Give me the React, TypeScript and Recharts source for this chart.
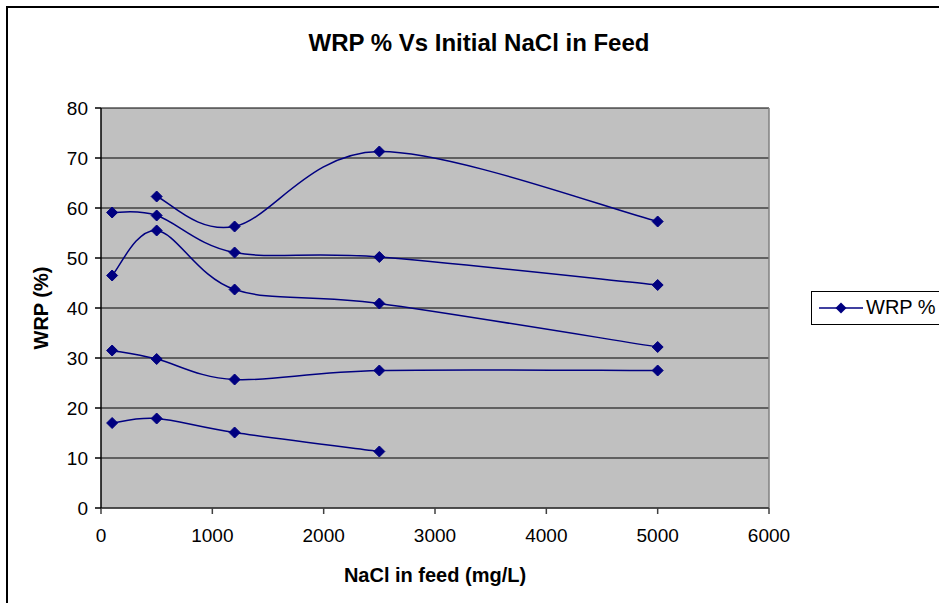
import React from "react";
import {
  LineChart,
  Line,
  XAxis,
  YAxis,
  CartesianGrid,
  ReferenceLine,
} from "recharts";

// Feed NaCl concentrations (mg/L)
const feedNaCl = [100, 500, 1200, 2500, 5000];

// WRP % runs; each run is plotted as its own segment of the one series
const runA = [59.1, 58.5, 51.1, 50.2, 44.6];
const runB = [46.5, 55.5, 43.7, 40.9, 32.2];
const runC = [31.5, 29.8, 25.7, 27.5, 27.5];
const runD = [17.0, 17.9, 15.1, 11.3];
const runE = [62.3, 56.3, 71.3, 57.3]; // starts at 500 mg/L
const runEStart = 1;

const xTicks = [0, 1000, 2000, 3000, 4000, 5000, 6000];
const yTicks = [0, 10, 20, 30, 40, 50, 60, 70, 80];

type Pt = { x: number; wrp: number | null };

const pushRun = (out: Pt[], values: number[], start = 0) => {
  values.forEach((v, i) => out.push({ x: feedNaCl[start + i], wrp: v }));
  // blank cell -> break in the line
  out.push({ x: feedNaCl[start + values.length - 1], wrp: null });
};

const data: Pt[] = [];
pushRun(data, runA);
pushRun(data, runB);
pushRun(data, runC);
pushRun(data, runD);
pushRun(data, runE, runEStart);

const NAVY = "#000080";
const FONT = "'Liberation Sans', Arial, sans-serif";

// Spreadsheet-style smoothed line (Catmull-Rom through each point)
const smoothCurve: any = (context: any) => {
  let pts: [number, number][] = [];
  return {
    areaStart() {},
    areaEnd() {},
    lineStart() {
      pts = [];
    },
    point(x: number, y: number) {
      pts.push([+x, +y]);
    },
    lineEnd() {
      if (!pts.length) return;
      context.moveTo(pts[0][0], pts[0][1]);
      for (let i = 0; i < pts.length - 1; i++) {
        const p0 = pts[Math.max(i - 1, 0)];
        const p1 = pts[i];
        const p2 = pts[i + 1];
        const p3 = pts[Math.min(i + 2, pts.length - 1)];
        context.bezierCurveTo(
          p1[0] + (p2[0] - p0[0]) / 6,
          p1[1] + (p2[1] - p0[1]) / 6,
          p2[0] - (p3[0] - p1[0]) / 6,
          p2[1] - (p3[1] - p1[1]) / 6,
          p2[0],
          p2[1]
        );
      }
    },
  };
};

const Diamond = (props: any) => {
  const { cx, cy, payload } = props;
  if (payload?.wrp == null || cx == null || cy == null) return <g />;
  const r = 5.5;
  return (
    <polygon
      points={`${cx},${cy - r} ${cx + r},${cy} ${cx},${cy + r} ${cx - r},${cy}`}
      fill={NAVY}
      stroke={NAVY}
      strokeWidth={1}
    />
  );
};

const LegendBox = () => (
  <div
    style={{
      position: "absolute",
      left: 811,
      top: 291,
      width: 160,
      height: 32,
      border: "1px solid #000",
      background: "#fff",
      fontFamily: FONT,
      fontSize: 20,
    }}
  >
    <svg width={50} height={32} style={{ position: "absolute", left: 5, top: 0 }}>
      <line x1={2} y1={16} x2={46} y2={16} stroke={NAVY} strokeWidth={1.5} />
      <polygon points="24,10.5 29.5,16 24,21.5 18.5,16" fill={NAVY} />
    </svg>
    <span style={{ position: "absolute", left: 54, top: 4, color: "#000" }}>
      WRP %
    </span>
  </div>
);

export default function App() {
  return (
    <div
      style={{
        position: "absolute",
        left: 0,
        top: 0,
        width: 939,
        height: 603,
        overflow: "hidden",
        background: "#fff",
        fontFamily: FONT,
      }}
    >
      <div
        style={{
          position: "absolute",
          left: 6,
          top: 6,
          width: 1000,
          height: 1000,
          border: "2px solid #000",
        }}
      />
      <div
        style={{
          position: "absolute",
          left: 0,
          width: 958,
          top: 29,
          textAlign: "center",
          fontWeight: "bold",
          fontSize: 24,
          color: "#000",
        }}
      >
        WRP % Vs Initial NaCl in Feed
      </div>
      <LineChart
        width={939}
        height={603}
        data={data}
        margin={{ top: 108, right: 170, bottom: 65, left: 41 }}
        style={{ position: "absolute", left: 0, top: 0 }}
      >
        <CartesianGrid
          vertical={false}
          stroke="#000"
          fill="#C0C0C0"
          fillOpacity={1}
        />
        <ReferenceLine x={6000} stroke="#808080" strokeWidth={1.5} />
        <XAxis
          type="number"
          dataKey="x"
          domain={[0, 6000]}
          ticks={xTicks}
          interval={0}
          stroke="#404040"
          strokeWidth={1.5}
          tickSize={6}
          tickMargin={15}
          height={30}
          tick={{ fill: "#000", fontSize: 19, fontFamily: FONT }}
          label={{
            value: "NaCl in feed (mg/L)",
            position: "insideBottom",
            offset: -44,
            fill: "#000",
            fontSize: 20,
            fontWeight: "bold",
            fontFamily: FONT,
          }}
        />
        <YAxis
          type="number"
          domain={[0, 80]}
          ticks={yTicks}
          interval={0}
          width={60}
          stroke="#000"
          strokeWidth={1.5}
          tickSize={6}
          tickMargin={7}
          tick={{ fill: "#000", fontSize: 19, fontFamily: FONT }}
          label={{
            value: "WRP (%)",
            angle: -90,
            position: "insideLeft",
            offset: 0,
            fill: "#000",
            fontSize: 20,
            fontWeight: "bold",
            fontFamily: FONT,
            style: { textAnchor: "middle" },
          }}
        />
        <Line
          name="WRP %"
          dataKey="wrp"
          type={smoothCurve}
          stroke={NAVY}
          strokeWidth={1.5}
          dot={<Diamond />}
          activeDot={false}
          connectNulls={false}
          isAnimationActive={false}
        />
      </LineChart>
      <LegendBox />
    </div>
  );
}
